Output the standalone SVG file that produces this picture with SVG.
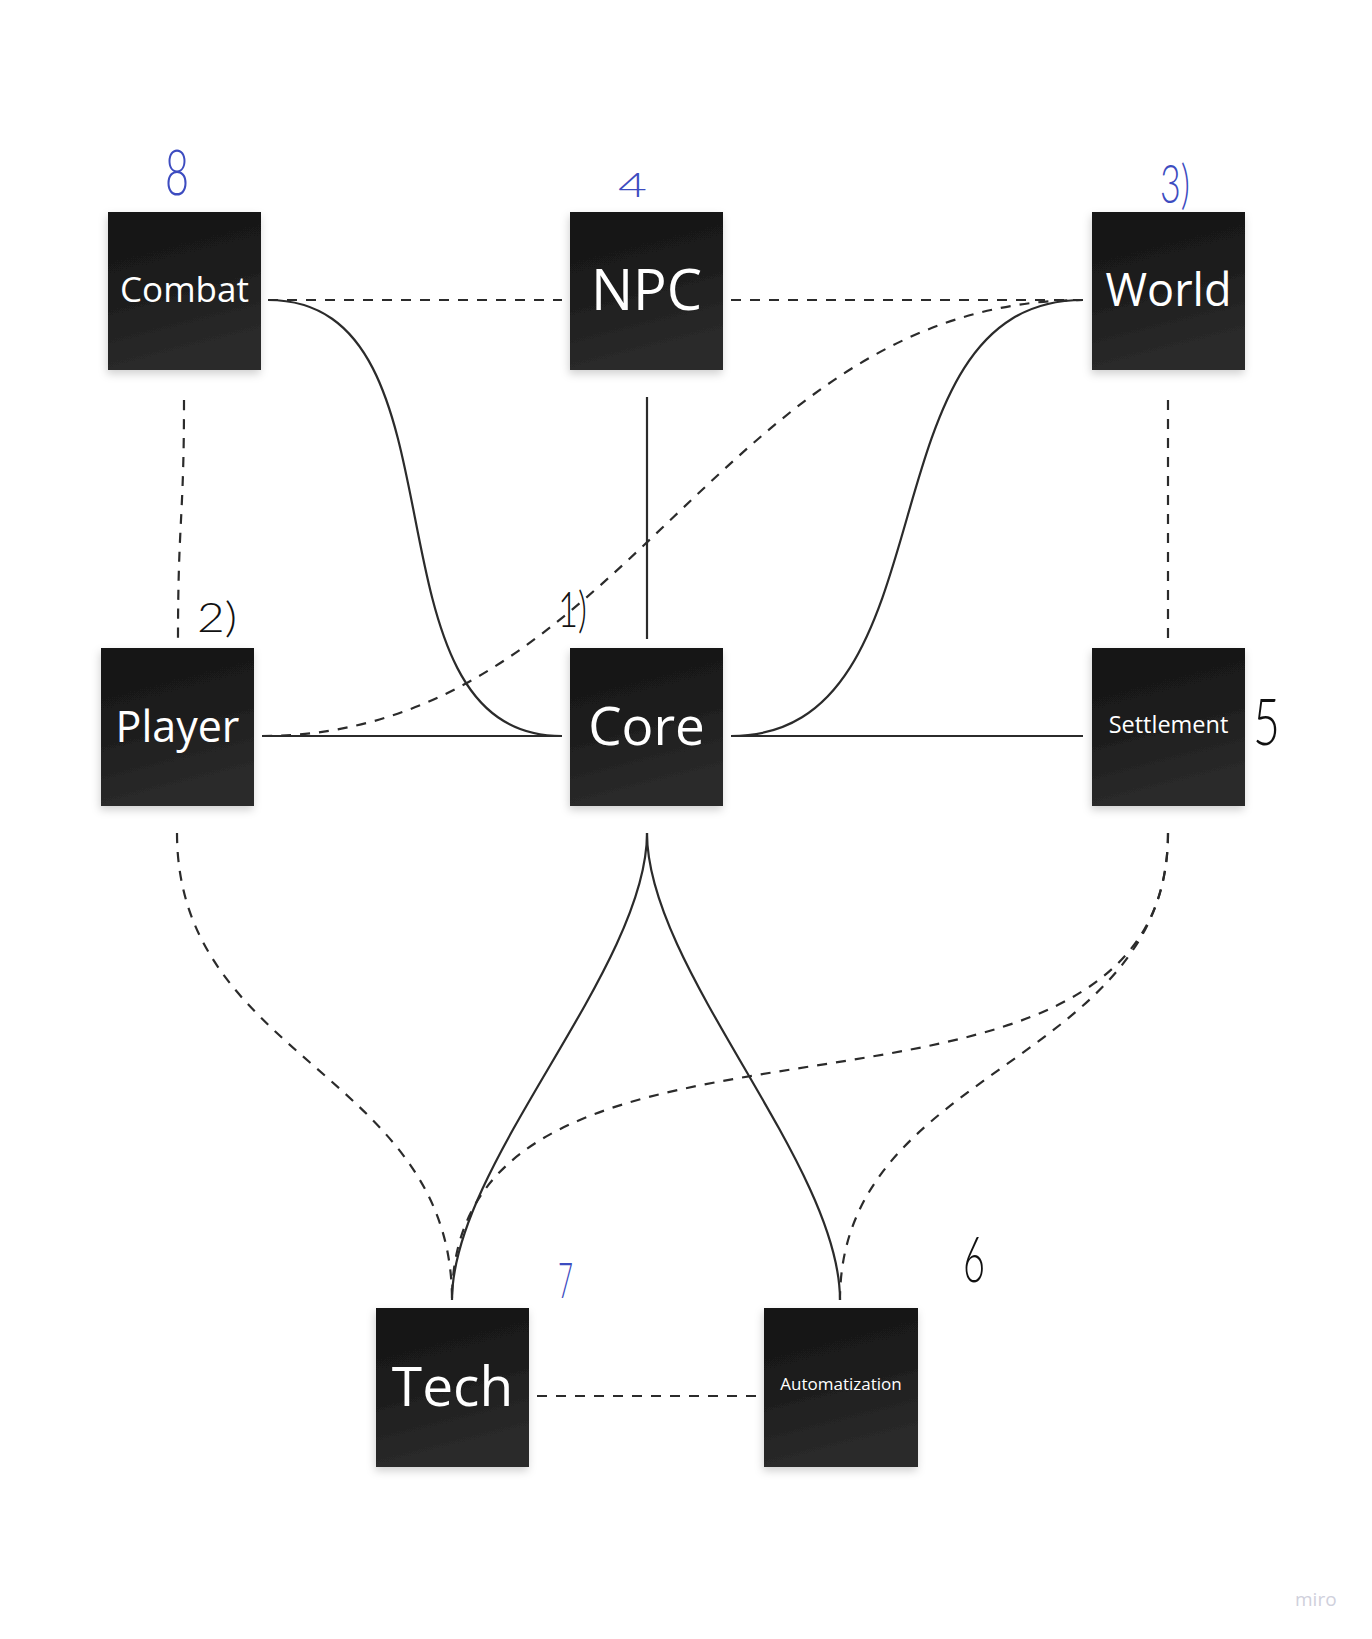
<svg xmlns="http://www.w3.org/2000/svg" width="1372" height="1639" viewBox="0 0 1372 1639">
  <style>
    .box { fill: url(#nodeFill); filter: url(#shadow); }
    .lbl { font-family: "Open Sans", "Noto Sans", "Liberation Sans", sans-serif; fill: #ffffff; text-anchor: middle; }
    .solid { fill: none; stroke: #2b2b2b; stroke-width: 2.2; }
    .dash { fill: none; stroke: #2b2b2b; stroke-width: 2.2; stroke-dasharray: 10 9; }
    .hand { font-family: "Lato", "Open Sans", "Liberation Sans", sans-serif; font-weight: 300; text-anchor: start; }
    .blue { fill: #3d4cc0; }
    .black { fill: #111111; }
  </style>
  <defs>
    <linearGradient id="nodeFill" x1="0" y1="0" x2="0.25" y2="1">
      <stop offset="0" stop-color="#151515"/>
      <stop offset="0.45" stop-color="#1b1b1b"/>
      <stop offset="1" stop-color="#2b2b2b"/>
    </linearGradient>
    <filter id="shadow" x="-20%" y="-20%" width="140%" height="140%">
      <feDropShadow dx="-1" dy="4" stdDeviation="4" flood-color="#000" flood-opacity="0.18"/>
    </filter>
  </defs>
  <rect width="1372" height="1639" fill="#ffffff"/>

  <g id="connectors">
    <!-- Combat - NPC -->
    <path class="dash" d="M268,300 L562,300"/>
    <!-- NPC - World -->
    <path class="dash" d="M731,300 L1083,300"/>
    <!-- Combat - Core -->
    <path class="solid" d="M268,300 C477,300 353,736 562,736"/>
    <!-- World - Core -->
    <path class="solid" d="M731,736 C958,736 856,300 1083,300"/>
    <!-- Player - World -->
    <path class="dash" d="M262,736 C626,736 719,300 1083,300"/>
    <!-- NPC - Core -->
    <path class="solid" d="M647,397 L647,639"/>
    <!-- Player - Core -->
    <path class="solid" d="M262,736 L562,736"/>
    <!-- Core - Settlement -->
    <path class="solid" d="M731,736 L1083,736"/>
    <!-- Combat - Player -->
    <path class="dash" d="M184,400 C184,520 178,520 178,639"/>
    <!-- World - Settlement -->
    <path class="dash" d="M1168,400 L1168,639"/>
    <!-- Player - Tech -->
    <path class="dash" d="M177,833 C177,1060 452,1073 452,1300"/>
    <!-- Core - Tech -->
    <path class="solid" d="M647,833 C647,969 452,1164 452,1300"/>
    <!-- Core - Automatization -->
    <path class="solid" d="M647,833 C647,969 840,1164 840,1300"/>
    <!-- Settlement - Tech -->
    <path class="dash" d="M1168,833 C1168,1188 452,945 452,1300"/>
    <!-- Settlement - Automatization -->
    <path class="dash" d="M1168,833 C1168,1066 840,1066 840,1300"/>
    <!-- Tech - Automatization -->
    <path class="dash" d="M537,1396 L757,1396"/>
  </g>

  <g id="node-combat">
    <rect class="box" x="108" y="212" width="153" height="158"/>
    <text class="lbl" x="184.5" y="302" font-size="35">Combat</text>
  </g>
  <g id="node-npc">
    <rect class="box" x="570" y="212" width="153" height="158"/>
    <text class="lbl" x="646.5" y="310" font-size="56">NPC</text>
  </g>
  <g id="node-world">
    <rect class="box" x="1092" y="212" width="153" height="158"/>
    <text class="lbl" x="1168.5" y="306" font-size="45">World</text>
  </g>
  <g id="node-player">
    <rect class="box" x="101" y="648" width="153" height="158"/>
    <text class="lbl" x="177.5" y="742" font-size="43">Player</text>
  </g>
  <g id="node-core">
    <rect class="box" x="570" y="648" width="153" height="158"/>
    <text class="lbl" x="646.5" y="745" font-size="53">Core</text>
  </g>
  <g id="node-settlement">
    <rect class="box" x="1092" y="648" width="153" height="158"/>
    <text class="lbl" x="1168.5" y="733" font-size="23.5">Settlement</text>
  </g>
  <g id="node-tech">
    <rect class="box" x="376" y="1308" width="153" height="159"/>
    <text class="lbl" x="452.5" y="1406" font-size="55">Tech</text>
  </g>
  <g id="node-automatization">
    <rect class="box" x="764" y="1308" width="154" height="159"/>
    <text class="lbl" x="841" y="1390" font-size="17">Automatization</text>
  </g>

  <g id="annotations">
    <text class="hand blue" x="165" y="195" font-size="64" textLength="24" lengthAdjust="spacingAndGlyphs">8</text>
    <text class="hand blue" x="618" y="197" font-size="34" textLength="29" lengthAdjust="spacingAndGlyphs">4</text>
    <text class="hand blue" x="1160" y="203" font-size="53" textLength="30" lengthAdjust="spacingAndGlyphs">3)</text>
    <text class="hand black" x="197" y="632" font-size="42" textLength="40" lengthAdjust="spacingAndGlyphs">2)</text>
    <text class="hand black" x="558" y="627" font-size="49" textLength="29" lengthAdjust="spacingAndGlyphs">1)</text>
    <text class="hand black" x="1253" y="745" font-size="66" textLength="27" lengthAdjust="spacingAndGlyphs">5</text>
    <text class="hand black" x="963" y="1282" font-size="63" textLength="22" lengthAdjust="spacingAndGlyphs">6</text>
    <text class="hand blue" x="558" y="1298" font-size="49" textLength="15" lengthAdjust="spacingAndGlyphs">7</text>
  </g>

  <text x="1295" y="1606" font-family="Open Sans, Liberation Sans, sans-serif" font-size="19" fill="#cfd0dc">miro</text>
</svg>
